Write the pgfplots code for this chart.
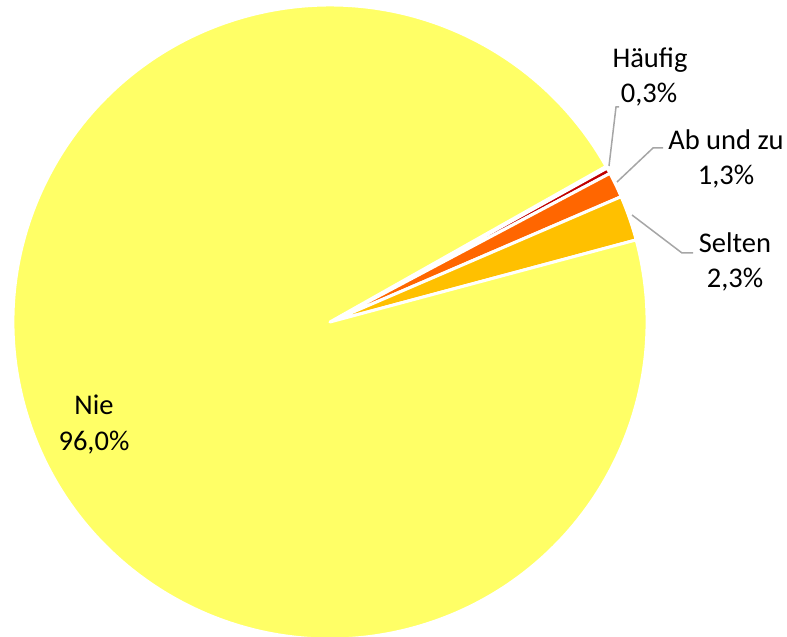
\documentclass[border=0pt]{standalone}
\usepackage{pgfplots}
\usepackage{pgfplotstable}
\pgfplotsset{compat=1.18}
\usepackage{fontspec}
\setmainfont{Carlito}
\definecolor{cHaeufig}{HTML}{C00000}
\definecolor{cAbundzu}{HTML}{FF6600}
\definecolor{cSelten}{HTML}{FFC000}
\definecolor{cNie}{HTML}{FFFF66}
\definecolor{leader}{HTML}{A6A6A6}
\pgfplotstableread{
value colour
0.3 cHaeufig
1.3 cAbundzu
2.3 cSelten
96.0 cNie
}\piedata
\begin{document}
\begin{tikzpicture}
\begin{axis}[hide axis, scale only axis, x=1pt, y=1pt,
  xmin=0, xmax=787, ymin=0, ymax=637, clip=false]
\coordinate (ll) at (axis cs:0,0);
\coordinate (ur) at (axis cs:787,637);
\xdef\angA{29.05}
\pgfplotsforeachungrouped \i in {0,1,2,3}{
  \pgfplotstablegetelem{\i}{value}\of\piedata \let\myval\pgfplotsretval
  \pgfplotstablegetelem{\i}{colour}\of\piedata \let\mycol\pgfplotsretval
  \pgfmathsetmacro\angB{\angA-3.6*\myval}
  \edef\temp{\noexpand\filldraw[fill=\mycol, draw=white, line width=3pt, line join=round]
    (axis cs:330,315) -- ++(\angA:317pt) arc[start angle=\angA, end angle=\angB, radius=317pt] -- cycle;}
  \temp
  \xdef\angA{\angB}
}
% leader lines
\draw[leader, line width=1.5pt] (axis cs:609,471) -- (axis cs:616,530) -- (axis cs:619,530);
\draw[leader, line width=1.5pt] (axis cs:617,455) -- (axis cs:653,489) -- (axis cs:663,489);
\draw[leader, line width=1.5pt] (axis cs:632,422) -- (axis cs:682,384) -- (axis cs:693,384);
% labels
\tikzset{lab/.style={anchor=base, inner sep=0pt, font=\fontsize{28.5}{35}\selectfont, text=black}}
\node[lab] at (axis cs:650,569) {Häufig};
\node[lab] at (axis cs:649,534) {0,3\%};
\node[lab] at (axis cs:726,487) {Ab und zu};
\node[lab] at (axis cs:726,452) {1,3\%};
\node[lab] at (axis cs:735,384) {Selten};
\node[lab] at (axis cs:735,349) {2,3\%};
\node[lab] at (axis cs:94,222) {Nie};
\node[lab] at (axis cs:94,186) {96,0\%};
\end{axis}
\pgfresetboundingbox
\path (ll) rectangle (ur);
\end{tikzpicture}
\end{document}
